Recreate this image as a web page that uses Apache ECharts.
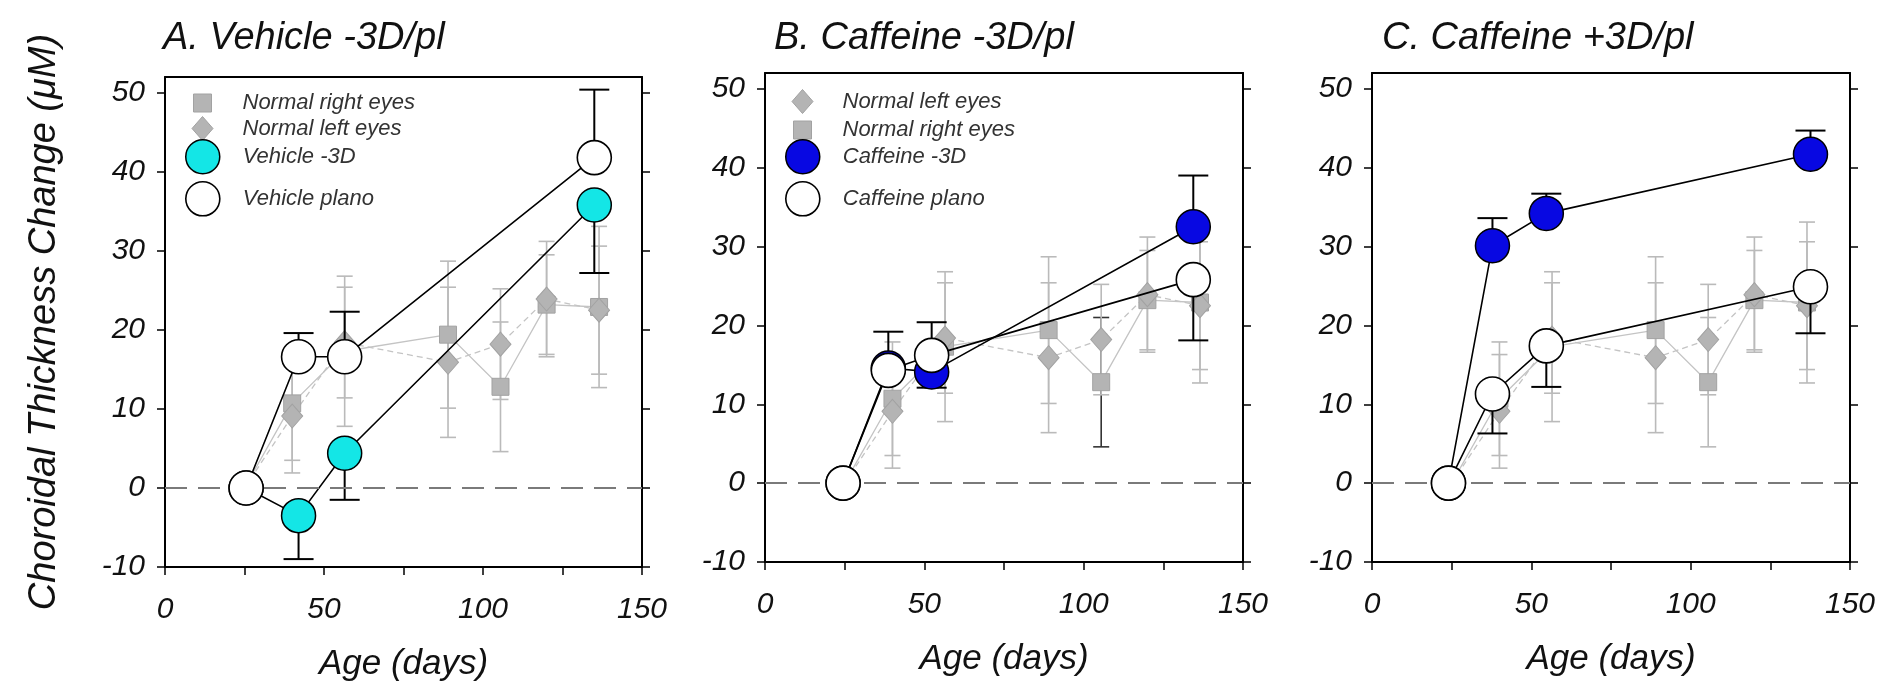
<!DOCTYPE html>
<html><head><meta charset="utf-8">
<script src="https://cdn.jsdelivr.net/npm/echarts@6/dist/echarts.min.js"></script>
<style>html,body{margin:0;padding:0;background:#fff}#c{width:1897px;height:700px}</style>
</head><body><div id="c"></div>
<script>
const FONT = "'Liberation Sans', Arial, Helvetica, sans-serif";

// ---- Data -------------------------------------------------------------
const panelTitles = ['A. Vehicle -3D/pl', 'B. Caffeine -3D/pl', 'C. Caffeine +3D/pl'];
const yTickValues = [-10, 0, 10, 20, 30, 40, 50];
const xLabelValues = [0, 50, 100, 150];

// Normal (untreated) eyes – same reference data in every panel
const normalAges = [25, 40, 56.5, 89, 105.5, 120, 136.5];
const normalRight = [0, 10.7, 17.3, 19.4, 12.8, 23.2, 22.9];
const normalRightErr = [0, 7.2, 9.5, 9.3, 8.2, 6.3, 10.2];
const normalLeft = [0, 9.1, 18.4, 15.9, 18.2, 23.9, 22.5];
const normalLeftErr = [0, 7.2, 7.0, 9.5, 7.0, 7.3, 8.1];

// Panel A: Vehicle
const agesA = [25.5, 42, 56.5, 135];
const vehicleMinus3D = [0, -3.5, 4.4, 35.8];
const vehicleMinus3DErr = [0, 5.5, 5.9, 8.6];   // shown downward
const vehiclePlano = [0, 16.6, 16.6, 41.8];
const vehiclePlanoErr = [0, 3.0, 5.7, 8.6];     // shown upward

// Panel B: Caffeine -3D / plano
const agesB = [24.5, 38.7, 52.3, 134.4];
const caffeineMinus3D = [0, 14.6, 14.1, 32.5];
const caffeineMinus3DErr = [0, 4.6, 6.3, 6.5];  // upward
const caffeinePlanoB = [0, 14.3, 16.2, 25.8];
const caffeinePlanoBErr = [0, 0, 4.1, 7.7];     // downward

// Panel C: Caffeine +3D / plano
const agesC = [24, 37.8, 54.7, 137.6];
const caffeinePlus3D = [0, 30.1, 34.2, 41.7];
const caffeinePlus3DErr = [0, 3.5, 2.5, 3.0];   // upward
const caffeinePlanoC = [0, 11.3, 17.4, 24.9];
const caffeinePlanoCErr = [0, 5.0, 5.2, 5.9];   // downward

// ---- Layout / styles ---------------------------------------------------
const grids = [
  {left: 165, top: 77, width: 477, height: 490},
  {left: 765, top: 73, width: 478, height: 489},
  {left: 1372, top: 73, width: 478, height: 489}
];
const titleLeft = [158, 769, 1377];
const CYAN = '#14e6e6', BLUE = '#0808e2';
const GRAY_FILL = '#b4b4b4', GRAY_BORDER = '#a2a2a2', GRAY_LINE = '#c4c4c4', GRAY_ERR = '#bababa';

function pts(xs, ys) { return xs.map((x, i) => [x, ys[i]]); }
function errPts(xs, ys, es, dir) {
  return xs.map((x, i) => [x, ys[i], ys[i] + dir * es[i], i]).filter(d => d[1] !== d[2]);
}
function errRender(capW, color, width, darkIndex) {
  return function (params, api) {
    const x = api.value(0), a = api.value(1), b = api.value(2), idx = api.value(3);
    const p1 = api.coord([x, a]), p2 = api.coord([x, b]);
    const st = {stroke: idx === darkIndex ? '#333' : color, lineWidth: width};
    return {type: 'group', children: [
      {type: 'line', shape: {x1: p1[0], y1: p1[1], x2: p2[0], y2: p2[1]}, style: st},
      {type: 'line', shape: {x1: p2[0] - capW / 2, y1: p2[1], x2: p2[0] + capW / 2, y2: p2[1]}, style: st}
    ]};
  };
}

const series = [], xAxes = [], yAxes = [], titles = [], legends = [];

function axisSet(i) {
  const lineSt = {color: '#000', width: 2};
  xAxes.push({
    gridIndex: i, type: 'value', min: 0, max: 150, interval: 25,
    axisLine: {onZero: false, lineStyle: lineSt},
    axisTick: {length: 8, lineStyle: {color: '#000', width: 1.5}},
    axisLabel: {formatter: v => (xLabelValues.indexOf(v) >= 0 ? String(v) : ''),
      fontFamily: FONT, fontSize: 30, fontStyle: 'italic', color: '#111', margin: 28},
    splitLine: {show: false},
    name: 'Age (days)', nameLocation: 'middle', nameGap: 80,
    nameTextStyle: {fontFamily: FONT, fontSize: 35, fontStyle: 'italic', color: '#111'}
  });
  xAxes.push({
    gridIndex: i, type: 'value', min: 0, max: 150, position: 'top',
    axisLine: {onZero: false, lineStyle: lineSt}, axisTick: {show: false},
    axisLabel: {show: false}, splitLine: {show: false}
  });
  const yl = {
    gridIndex: i, type: 'value', min: -10, max: 52, interval: 10,
    axisLine: {show: true, onZero: false, lineStyle: lineSt},
    axisTick: {show: true, length: 8, customValues: yTickValues, lineStyle: {color: '#000', width: 1.5}},
    axisLabel: {customValues: yTickValues, formatter: v => (v % 10 === 0 ? String(v) : ''),
      fontFamily: FONT, fontSize: 30, fontStyle: 'italic', color: '#111', margin: 20},
    splitLine: {show: false}
  };
  if (i === 0) {
    yl.name = 'Choroidal Thickness Change (\u03bcM)';
    yl.nameLocation = 'middle';
    yl.nameGap = 102;
    yl.nameTextStyle = {fontFamily: FONT, fontSize: 38, fontStyle: 'italic', color: '#111'};
  }
  yAxes.push(yl);
  yAxes.push({
    gridIndex: i, type: 'value', min: -10, max: 52, interval: 10, position: 'right',
    axisLine: {show: true, onZero: false, lineStyle: lineSt},
    axisTick: {show: true, length: 8, customValues: yTickValues, lineStyle: {color: '#000', width: 1.5}},
    axisLabel: {show: false}, splitLine: {show: false}
  });
}

function addPanel(i, ages, treat, treatErr, treatDir, treatName, treatColor, plano, planoErr, planoDir, planoName, darkIdx) {
  const xi = 2 * i, yi = 2 * i;
  axisSet(i);
  titles.push({text: panelTitles[i], left: titleLeft[i], top: 14,
    textStyle: {fontFamily: FONT, fontSize: 38, fontStyle: 'italic', fontWeight: 'normal', color: '#111'}});
  series.push({type: 'custom', xAxisIndex: xi, yAxisIndex: yi, renderItem: errRender(16, GRAY_ERR, 1.6, darkIdx),
    data: errPts(normalAges, normalRight, normalRightErr, 1).concat(errPts(normalAges, normalRight, normalRightErr, -1)),
    z: 1, silent: true,
    markLine: {silent: true, symbol: ['none', 'none'], label: {show: false},
      lineStyle: {color: '#7a7a7a', width: 2, type: [22, 11]}, data: [{yAxis: 0}]}});
  series.push({type: 'custom', xAxisIndex: xi, yAxisIndex: yi, renderItem: errRender(16, GRAY_ERR, 1.6, -1),
    data: errPts(normalAges, normalLeft, normalLeftErr, 1).concat(errPts(normalAges, normalLeft, normalLeftErr, -1)),
    z: 1, silent: true});
  series.push({name: 'Normal right eyes', type: 'line', xAxisIndex: xi, yAxisIndex: yi,
    data: pts(normalAges, normalRight), symbol: 'rect', symbolSize: 17,
    itemStyle: {color: GRAY_FILL, borderColor: GRAY_BORDER, borderWidth: 1},
    lineStyle: {color: GRAY_LINE, width: 1.3}, z: 2});
  series.push({name: 'Normal left eyes', type: 'line', xAxisIndex: xi, yAxisIndex: yi,
    data: pts(normalAges, normalLeft), symbol: 'diamond', symbolSize: [21, 24],
    itemStyle: {color: GRAY_FILL, borderColor: GRAY_BORDER, borderWidth: 1},
    lineStyle: {color: GRAY_LINE, width: 1.3, type: [6, 4]}, z: 2});
  series.push({type: 'custom', xAxisIndex: xi, yAxisIndex: yi, renderItem: errRender(30, '#000', 2, -1),
    data: errPts(ages, treat, treatErr, treatDir).concat(errPts(ages, plano, planoErr, planoDir)),
    z: 3, silent: true});
  series.push({name: treatName, type: 'line', xAxisIndex: xi, yAxisIndex: yi,
    data: pts(ages, treat), symbol: 'circle', symbolSize: 34,
    itemStyle: {color: treatColor, borderColor: '#000', borderWidth: 1.5},
    lineStyle: {color: '#000', width: 1.6}, z: 4});
  series.push({name: planoName, type: 'line', xAxisIndex: xi, yAxisIndex: yi,
    data: pts(ages, plano), symbol: 'circle', symbolSize: 34,
    itemStyle: {color: '#fff', borderColor: '#000', borderWidth: 1.6},
    lineStyle: {color: '#000', width: 1.6}, z: 5});
}

addPanel(0, agesA, vehicleMinus3D, vehicleMinus3DErr, -1, 'Vehicle -3D', CYAN, vehiclePlano, vehiclePlanoErr, 1, 'Vehicle plano', -1);
addPanel(1, agesB, caffeineMinus3D, caffeineMinus3DErr, 1, 'Caffeine -3D', BLUE, caffeinePlanoB, caffeinePlanoBErr, -1, 'Caffeine plano', 4);
addPanel(2, agesC, caffeinePlus3D, caffeinePlus3DErr, 1, 'Caffeine +3D', BLUE, caffeinePlanoC, caffeinePlanoCErr, -1, 'Caffeine plano', -1);

const legendA = ['Normal right eyes', 'Normal left eyes', 'Vehicle -3D', 'Vehicle plano'];
const legendB = ['Normal left eyes', 'Normal right eyes', 'Caffeine -3D', 'Caffeine plano'];
const legendRowY = [101, 128, 156, 198];
function iconFor(name) {
  if (name === 'Normal right eyes') return {icon: 'rect', w: 18, h: 18, st: {color: GRAY_FILL, borderColor: GRAY_BORDER, borderWidth: 1}};
  if (name === 'Normal left eyes') return {icon: 'diamond', w: 21, h: 24, st: {color: GRAY_FILL, borderColor: GRAY_BORDER, borderWidth: 1}};
  if (name.indexOf('plano') >= 0) return {icon: 'circle', w: 34, h: 34, st: {color: '#fff', borderColor: '#000', borderWidth: 1.6}};
  return {icon: 'circle', w: 34, h: 34, st: {color: name.indexOf('Vehicle') >= 0 ? CYAN : BLUE, borderColor: '#000', borderWidth: 1.5}};
}
[[0, legendA], [1, legendB]].forEach(([gi, names]) => {
  const cx = grids[gi].left + 37, tx = grids[gi].left + 77;
  names.forEach((n, k) => {
    const ic = iconFor(n);
    legends.push({
      data: [{name: n, icon: ic.icon}], selectedMode: false, orient: 'vertical',
      left: cx - ic.w / 2, top: legendRowY[k] - ic.h / 2, padding: 0,
      itemWidth: ic.w, itemHeight: ic.h, itemStyle: ic.st,
      textStyle: {fontFamily: FONT, fontSize: 22, fontStyle: 'italic', color: '#333',
        padding: [0, 0, 0, tx - (cx + ic.w / 2 + 5)]}
    });
  });
});

const chart = echarts.init(document.getElementById('c'));
chart.setOption({
  animation: false,
  backgroundColor: '#fff',
  title: titles,
  legend: legends,
  grid: grids,
  xAxis: xAxes,
  yAxis: yAxes,
  series: series
});
</script></body></html>
